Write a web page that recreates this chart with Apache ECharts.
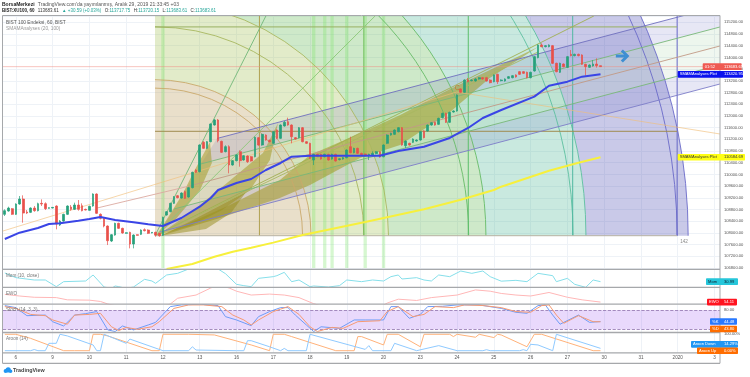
<!DOCTYPE html>
<html>
<head>
<meta charset="utf-8">
<title>BIST:XU100</title>
<style>
html,body{margin:0;padding:0;background:#fff}
#chart{width:750px;height:377px}
</style>
<script src="https://cdn.jsdelivr.net/npm/echarts@6/dist/echarts.min.js"></script>
</head>
<body>
<div id="chart"></div>
<script>
// candles, one hour each
const candleOpen = [
  108634,108748,108828,108634,108987,109158,108714,108702,108850,108759,
  109010,108999,108839,108850,108919,108269,108406,108634,108885,108805,
  108953,108930,108805,108771,108919,109329,108634,108486,108235,107722,
  107927,108326,108155,107984,108018,107619,107938,107950,108110,108098,
  107996,108018,107984,107916,108611,108725,109010,109272,109192,109409,
  109227,109546,110150,110093,111096,110891,111119,111689,111860,111130,
  110777,110948,110321,110469,110777,110492,110629,110606,110606,111255,
  111004,111346,111164,111061,111517,111232,111654,111802,111688,111255,
  111255,111597,111118,111061,110491,110685,110685,110605,110685,110525,
  110685,110503,110525,110571,110947,110742,110890,110719,110696,110639,
  110662,110708,110776,110605,111061,111346,111369,111460,111597,110981,
  111061,111095,111141,111175,111483,111483,111688,111779,111711,111939,
  112087,111779,112132,112167,112919,112805,113227,113204,113193,113261,
  113307,113307,113227,113170,113421,113204,113193,113284,113307,113398,
  113512,113512,113489,113307,113535,113991,114424,114367,114367,114401,
  113797,113489,113774,113660,114105,114059,114105,114082,113763,113660,
  113706,113774,113717.75
]
const candleClose = [
  108759,108850,108634,108987,109158,108679,108679,108850,108759,108999,
  108987,108828,108862,108873,108303,108406,108634,108919,108805,108953,
  108805,108759,108782,108907,109329,108668,108497,108235,107733,107938,
  108326,108155,107995,108007,107619,107927,107916,108098,108075,107984,
  108018,107927,107904,108531,108725,109010,109238,109204,109363,109181,
  109546,110070,110070,111005,110891,111119,111723,111860,111153,110754,
  110948,110321,110469,110663,110469,110640,110435,110458,111267,111004,
  111369,111175,111118,111460,111232,111688,111780,111688,111289,111209,
  111597,111118,111061,110548,110685,110617,110525,110685,110491,110685,
  110457,110537,110571,110833,110742,110890,110719,110662,110639,110685,
  110719,110776,110594,111004,111346,111403,111517,111597,111004,111141,
  111004,111209,111175,111460,111255,111688,111768,111688,111916,112087,
  111779,112121,112167,112714,112805,113227,113170,113227,113261,113307,
  113261,113193,113136,113398,113170,113227,113261,113341,113375,113330,
  113421,113455,113307,113489,114025,114424,114367,114401,114424,113797,
  113512,113797,113683,114025,114059,114105,114059,113763,113683,113740,
  113774,113717,113683.61
]
const candleLow = [
  108577,108725,108611,108611,108964,108349,108645,108679,108725,108736,
  108919,108782,108828,108839,108121,108235,108383,108611,108759,108782,
  108759,108736,108770,108759,108896,108645,108463,108190,107585,107688,
  107904,108133,107972,107972,107471,107471,107904,107927,108052,107961,
  107984,107870,107870,107893,108588,108702,108987,109181,109170,109158,
  109204,109523,110047,110070,110868,110868,111096,111666,111096,110731,
  110754,110036,110298,110446,110264,110469,110390,110435,110583,110980,
  110980,111152,111096,111038,111209,111209,111631,111665,111061,111187,
  111232,111095,111038,110525,110320,110594,110502,110582,110468,110502,
  110434,110480,110502,110548,110719,110719,110696,110639,110616,110491,
  110639,110685,110571,110582,111038,111323,111346,111437,110981,110901,
  110981,111072,111118,111152,111232,111460,111665,111665,111688,111916,
  111756,111756,112109,112144,112782,112782,113147,113181,113170,113238,
  113238,113170,113113,113147,113090,113181,113170,113261,113284,113307,
  113398,113432,113284,113284,113512,113968,114344,114344,114344,113774,
  113489,113466,113660,113637,114036,114036,114036,113740,113375,113637,
  113683,113649,113683.61
]
const candleHigh = [
  108805,108896,108850,109010,109261,109284,108782,108873,108919,109033,
  109147,109044,108873,108885,108942,108440,108657,108942,108953,109033,
  109124,109010,108828,108930,109352,109352,108668,108509,108258,107961,
  108349,108349,108178,108018,108041,107950,107950,108121,108155,108121,
  108030,108041,108007,108554,108748,109033,109261,109295,109386,109443,
  109569,110093,110173,111028,111142,111142,111746,111894,111894,111153,
  110994,110994,110492,110686,110823,110663,110652,110629,111290,111278,
  111392,111369,111187,111483,111540,111711,111825,111940,111711,111278,
  111620,111620,111141,111084,110708,110708,110708,110708,110708,110708,
  110708,110560,110594,110856,111289,110913,110913,110742,110719,110708,
  110788,110799,110799,111027,111369,111426,111540,111620,111620,111164,
  111084,111232,111198,111483,111506,111711,111791,111802,111939,112110,
  112110,112144,112190,112737,112942,113250,113295,113250,113290,113330,
  113330,113330,113250,113421,113444,113250,113284,113364,113398,113421,
  113535,113535,113512,113512,114048,114447,114481,114424,114447,114424,
  113820,113820,113797,114048,114253,114128,114128,114105,113786,113763,
  113911,113968,113720.15
]

// x axis, bar slots (the right part is empty space)
const barSlots = 195
const dayBars = [3,13,23,33,43,53,63,73,83,93,103,113,123,133,143,153,163,173,183,193]
const dayLabels = ['6','9','10','11','12','13','16','17','18','19','20','23','24','25','26','27','30','31','2020','3']
const priceTicks = 400

// moving averages
const smaFastBars = [0,4,9,12,15,20,23,26,30,35,39,43,48,53,56,58,63,67,71,75,78,83,94,102,107,114,121,126,130,135,144,148,153,157,162]
const smaFastValues = [107791,108007,108168,108304,108328,108417,108475,108544,108441,108362,108294,108236,108510,108896,109193,109467,109706,109843,110151,110390,110605,110640,110640,110640,110800,110947,111245,111587,111929,112202,112657,113033,113170,113341,113420.95]
const smaSlowBars = [44,51,57,62,67,73,81,98,114,124,133,135,148,156,162]
const smaSlowValues = [106766,106937,107186,107357,107494,107668,107928,108373,108807,109132,109467,109580,110127,110400,110584.69]

// indicators
const momBars = [0,3,8,11,14,16,22,24,27,29,30,31,33,35,38,40,41,44,47,50,54,58,60,63,65,67,69,73,74,76,78,80,83,84,88,91,93,97,100,103,105,107,108,112,114,116,118,121,124,127,130,132,135,139,142,145,149,150,153,155,158,160,162]
const momValues = [1243,590,264,264,-668,31,124,963,-715,-900,-575,-668,-900,-715,357,124,-202,963,1196,1802,2400,1802,1150,-342,-528,-668,497,730,870,1336,31,264,-668,-575,-715,-528,264,31,264,124,730,963,404,590,264,124,963,730,1522,1196,1522,730,100,217,31,1196,870,31,497,-342,-761,264,30.99]
const ewoBars = [0,4,8,14,17,23,26,28,34,41,45,47,52,56,58,61,63,67,72,76,80,84,88,94,101,104,107,112,116,123,128,132,135,139,143,148,153,157,162]
const ewoValues = [390,320,264,250,152,138,82,-30,-250,-250,-30,222,362,670,800,670,530,362,404,362,250,-16,-200,-250,-250,12,180,124,250,362,586,530,432,362,320,474,264,152,54.11]
const stochKBars = [0,3,6,11,13,16,19,22,25,28,30,32,35,39,41,45,48,53,58,60,63,67,69,72,75,77,79,82,84,86,91,95,98,103,105,107,110,113,115,119,123,129,135,139,142,145,147,149,151,156,159,162]
const stochKValues = [94.7,88.4,63,65,44,30.5,65,69.5,76,18,13,30.5,18,33.7,42,91.6,97,99,94.7,60,49.5,31.5,60,76,88.4,88.4,65,33.7,13,28,23,49.5,49.5,49.5,91.6,91.6,54.7,67,91.6,92.6,97,97,86,73.7,70.5,94.7,97,65,36,65,42,44.48]
const stochDBars = [0,3,7,11,13,17,19,23,26,29,31,33,36,40,42,46,50,54,59,62,65,67,69,73,77,80,83,85,89,92,96,102,104,107,111,114,117,122,125,130,135,139,143,146,148,150,152,156,160,162]
const stochDValues = [91.6,86,67,63,49.5,36,65,67,70.5,28,16,26,20,28,44,86,97,97,91.6,65,49.5,33.7,49.5,76,91.6,67,28,13,26,23,44,47,76,91.6,60,67,91.6,88.4,97,95,88.4,76,73.7,94.7,97,65,39,63,44,43.8]
const aroonUpBars = [0,3,7,16,19,23,24,26,28,40,42,43,50,57,67,72,73,76,78,90,95,96,97,103,104,107,113,114,121,122,123,128,129,133,134,135,142,144,146,160,162]
const aroonUpValues = [100,100,75.5,0,0,0,100,100,90,0,0,100,100,96,35,0,100,100,86,0,0,86,86,35,100,100,24,100,100,86,100,82,100,80,100,96,24,100,100,0,0]
const aroonDownBars = [0,7,8,9,11,12,14,15,17,24,25,26,27,33,34,43,50,51,52,63,65,66,67,72,75,76,77,82,83,98,99,100,105,106,112,118,123,130,131,132,140,141,142,143,145,149,150,162]
const aroonDownValues = [0,0,7,0,0,45,45,100,90,35,0,0,100,45,71,0,0,24,4,0,0,61,61,24,0,14,0,0,100,8,31,0,0,45,0,31,0,0,6,0,0,6,0,39,35,0,100,14.29]

// last values for the tags
const lastPrice = 113683.61
const lastSmaFast = 113420.95
const lastSmaSlow = 110584.69
const lastMom = 30.99
const lastEwo = 54.11
const lastK = 44.48
const lastD = 43.8
const lastAroonDown = 14.29
const lastAroonUp = 0

// gann box, in bars and price
const gannOriginBar = 40.84
const gannOriginPrice = 107904
const gannBoxBars = 142
const gannBands = [[0,42.43],[42.43,63.5],[63.5,90],[90,117.2],[117.2,145]]
const gannArcs = [40.14,42.43,56.8,63.5,85.3,90,113.7,117.2,142,145]
const gannVerticals = [69.24,97.64,126.04,154.44,182.84]
const gannHorizontals = [111473,115042]
const fanLines = [[71,115416],[100.7,115416],[160.2,115416],[145,114185]]
const stripeBars = [43,84,87,89,93,98,103]

// channel lines, left and right end as [bar, price]
const channelUpper = [[57.7,111228],[194.5,115758]]
const channelInnerHigh = [[53.3,110356],[194.5,115040]]
const channelMedian = [[49.7,109587],[194.5,114390]]
const channelInnerLow = [[46,108817],[194.5,113741]]
const channelLower = [[42.2,108031],[194.5,113091]]
const medianHandle = [[25.1,108851],[49.7,109587]]
const handleRise = [[-0.5,108065],[122.9,112817]]
const handleFall = [[122.9,112817],[194.5,111381]]

// olive wedges as [bar, price]
const wedgeOne = [[41.4,107928],[48.5,109364],[51.2,110048],[55.8,111108],[56.3,110390],[53.1,109467],[46.3,108441]]
const wedgeTwo = [[41.7,107928],[50.4,108680],[60.4,109706],[70.2,110732],[74.3,111758],[72.1,110493],[66.7,109467],[59.1,108783],[50.4,108236]]
const wedgeThree = [[42.2,107894],[50.1,108373],[65.6,109398],[61.5,108680],[54.7,108133]]
const wedgeBig = [[42.2,107894],[61.2,108954],[74.8,109809],[83,110663],[97.4,111450],[107.5,112031],[121.1,112920],[145,114356],[131.9,113296],[121.1,112134],[107.5,111005],[96.6,110561],[83,109638],[74.8,109193],[58.5,108510]]

const arrowBar = 167.8
const arrowPrice = 114048

const fontName = '"Liberation Sans", Arial, sans-serif'
const chart = echarts.init(document.getElementById('chart'), null, { renderer: 'canvas' })

const paneTop = [16, 270, 288, 304.5, 333]
const paneHeight = [252, 17, 16, 28, 19.7]
const paneMin = [106800, -715, -30, 9.9, -12.2]
const paneMax = [115415, 1662, 670, 98.3, 107.9]

const categories = []
for (let i = 0; i < barSlots; i++) {
  const idx = dayBars.indexOf(i)
  categories.push(idx >= 0 ? dayLabels[idx] : '')
}

function zip(bars, values) {
  return bars.map((b, i) => [b, values[i]])
}

function lineSeries(pane, points, color, width, z) {
  return {
    type: 'line',
    xAxisIndex: 5 + pane,
    yAxisIndex: pane,
    data: points,
    showSymbol: false,
    silent: true,
    clip: true,
    z: z,
    lineStyle: { color: color, width: width }
  }
}

function customSeries(data, z, renderItem) {
  return {
    type: 'custom',
    xAxisIndex: 5,
    yAxisIndex: 0,
    data: data,
    silent: true,
    clip: true,
    z: z,
    renderItem: renderItem
  }
}

function polygonSeries(shapes, colors, z) {
  return customSeries(shapes.map((s, i) => [i]), z, function(params, api) {
    const i = params.dataIndex
    return {
      type: 'polygon',
      shape: { points: shapes[i].map((p) => api.coord(p)) },
      style: { fill: colors[i], stroke: null }
    }
  })
}

const bandColors = ['rgba(182,148,78,.3)', 'rgba(158,188,75,.3)', 'rgba(92,182,75,.3)', 'rgba(75,182,148,.3)', 'rgba(75,75,178,.3)']
const arcColors = ['#c9a86a', '#c9a86a', '#a8b860', '#a8b860', '#66bb66', '#66bb66', '#5cbf9f', '#5cbf9f', '#6a6ac8', '#6a6ac8']
const verticalColors = ['#b0a050', '#72bf5e', '#5cbf6a', '#4fb8a0', '#6a6ac8']
const horizontalColors = ['#a08c50', '#98b060']
const fanColors = ['#72b878', '#8cc878', '#a0b050', '#a8b860']

function arcPixels(api, bars) {
  const c = api.coord([gannOriginBar, gannOriginPrice])
  const r = api.coord([gannOriginBar + bars, gannOriginPrice])[0] - c[0]
  return { cx: c[0], cy: c[1], r: r }
}

const series = [
  // gann fill
  customSeries(gannBands, 1, function(params, api) {
    const band = gannBands[params.dataIndex]
    const outer = arcPixels(api, band[1])
    const inner = arcPixels(api, band[0])
    return {
      type: 'sector',
      shape: { cx: outer.cx, cy: outer.cy, r: outer.r, r0: inner.r, startAngle: -Math.PI / 2, endAngle: 0, clockwise: true },
      style: { fill: bandColors[params.dataIndex], stroke: null }
    }
  }),
  // channel fill
  polygonSeries([
    [channelUpper[0], channelUpper[1], channelInnerHigh[1], channelInnerHigh[0]],
    [channelInnerHigh[0], channelInnerHigh[1], channelMedian[1], channelMedian[0]],
    [channelMedian[0], channelMedian[1], channelInnerLow[1], channelInnerLow[0]],
    [channelInnerLow[0], channelInnerLow[1], channelLower[1], channelLower[0]]
  ], ['rgba(70,70,180,.13)', 'rgba(90,170,90,.11)', 'rgba(90,170,90,.09)', 'rgba(70,70,180,.13)'], 2),
  // stripes
  customSeries(stripeBars.map((b) => [b]), 3, function(params, api) {
    const b = stripeBars[params.dataIndex]
    const left = api.coord([b - 0.45, paneMax[0]])
    const right = api.coord([b + 0.45, paneMin[0]])
    return {
      type: 'rect',
      shape: { x: left[0], y: left[1], width: right[0] - left[0], height: right[1] - left[1] },
      style: { fill: 'rgba(120,230,100,.3)' }
    }
  }),
  polygonSeries([wedgeBig, wedgeOne, wedgeTwo, wedgeThree], ['rgba(160,150,25,.52)', 'rgba(160,150,25,.5)', 'rgba(160,150,25,.5)', 'rgba(150,140,25,.5)'], 4),
  // gann arcs
  customSeries(gannArcs.map((r) => [r]), 5, function(params, api) {
    const a = arcPixels(api, gannArcs[params.dataIndex])
    return {
      type: 'arc',
      shape: { cx: a.cx, cy: a.cy, r: a.r, startAngle: -Math.PI / 2, endAngle: 0, clockwise: true },
      style: { fill: null, stroke: arcColors[params.dataIndex], lineWidth: 0.9 }
    }
  })
]

gannVerticals.forEach((b, i) => {
  series.push(lineSeries(0, [[b, gannOriginPrice], [b, paneMax[0]]], verticalColors[i], 1, 5))
})
gannHorizontals.forEach((p, i) => {
  series.push(lineSeries(0, [[gannOriginBar, p], [gannOriginBar + gannBoxBars, p]], horizontalColors[i], 1, 5))
})
fanLines.forEach((p, i) => {
  series.push(lineSeries(0, [[gannOriginBar, gannOriginPrice], p], fanColors[i], 0.9, 5))
})
series.push(lineSeries(0, [[gannOriginBar, gannOriginPrice], [gannOriginBar + gannBoxBars, gannOriginPrice]], '#b9b4a4', 1, 5))
series.push(lineSeries(0, channelUpper, '#6f6fbe', 0.9, 5))
series.push(lineSeries(0, channelInnerHigh, '#78b878', 0.9, 5))
series.push(lineSeries(0, channelMedian, '#c29a86', 0.9, 5))
series.push(lineSeries(0, medianHandle, '#dba9a0', 0.9, 5))
series.push(lineSeries(0, channelInnerLow, '#78b878', 0.9, 5))
series.push(lineSeries(0, channelLower, '#7d7dc8', 0.9, 5))
series.push(lineSeries(0, handleRise, 'rgba(240,190,120,.7)', 0.9, 5))
series.push(lineSeries(0, handleFall, 'rgba(240,190,120,.7)', 0.9, 5))
series.push(lineSeries(0, [[-0.5, lastPrice], [194.5, lastPrice]], 'rgba(240,140,130,.5)', 1, 5))

// candles
series.push({
  type: 'candlestick',
  xAxisIndex: 0,
  yAxisIndex: 0,
  barWidth: 2.2,
  silent: true,
  z: 6,
  data: candleOpen.map((o, i) => [o, candleClose[i], candleLow[i], candleHigh[i]]),
  itemStyle: { color: '#26a17b', color0: '#e8504a', borderColor: '#26a17b', borderColor0: '#e8504a', borderWidth: 0.7 }
})

series.push(lineSeries(0, zip(smaFastBars, smaFastValues), '#3a45e6', 2, 7))
series.push(lineSeries(0, zip(smaSlowBars, smaSlowValues), '#f7f03c', 2, 7))

// arrow, C and bar count
series.push(customSeries([[arrowBar, arrowPrice]], 8, function(params, api) {
  const c = api.coord([arrowBar, arrowPrice])
  const stroke = { fill: null, stroke: '#3f8fd2', lineWidth: 3, lineJoin: 'miter' }
  return {
    type: 'group',
    children: [
      { type: 'polyline', shape: { points: [[c[0] - 6, c[1]], [c[0] + 4, c[1]]] }, style: stroke },
      { type: 'polyline', shape: { points: [[c[0], c[1] - 5.5], [c[0] + 5.5, c[1]], [c[0], c[1] + 5.5]] }, style: stroke }
    ]
  }
}))
series.push(customSeries([[122.9, 112817]], 8, function(params, api) {
  const c = api.coord([122.9, 112817])
  return { type: 'text', x: c[0] - 2, y: c[1] - 7, style: { text: 'C', fill: '#c07a30', fontSize: 7, fontFamily: fontName } }
}))

// indicators
series.push(lineSeries(1, zip(momBars, momValues), '#86dfea', 1, 5))
series.push(lineSeries(2, zip(ewoBars, ewoValues), '#ffb7b7', 1, 5))
const stochK = lineSeries(3, zip(stochKBars, stochKValues), '#6f9cf7', 1, 6)
stochK.markArea = {
  silent: true,
  itemStyle: { color: 'rgba(155,80,240,.22)' },
  data: [[{ yAxis: 20 }, { yAxis: 80 }]]
}
stochK.markLine = {
  silent: true,
  symbol: 'none',
  label: { show: false },
  lineStyle: { color: '#8f72ad', type: 'dashed', width: 0.8 },
  data: [{ yAxis: 20 }, { yAxis: 80 }]
}
series.push(stochK)
series.push(lineSeries(3, zip(stochDBars, stochDValues), '#f79a73', 1, 6))
series.push(lineSeries(4, zip(aroonUpBars, aroonUpValues), '#ffb27a', 1, 5))
series.push(lineSeries(4, zip(aroonDownBars, aroonDownValues), '#8fcaff', 1, 5))

const gridLine = { lineStyle: { color: '#eef2f7', width: 1 } }

const option = {
  animation: false,
  backgroundColor: '#fff',
  grid: paneTop.map((top, i) => ({ left: 3, width: 717, top: top, height: paneHeight[i] })),
  xAxis: paneTop.map((top, i) => ({
    type: 'category',
    gridIndex: i,
    data: categories,
    axisLine: { show: false },
    axisTick: { show: false },
    axisLabel: i === 4 ? {
      show: true,
      fontSize: 4.6,
      color: '#555',
      fontFamily: fontName,
      margin: 3,
      interval: (idx) => dayBars.indexOf(idx) >= 0,
      formatter: (v) => v
    } : { show: false },
    splitLine: {
      show: true,
      alignWithLabel: true,
      interval: (idx) => dayBars.indexOf(idx) >= 0,
      lineStyle: gridLine.lineStyle
    }
  })).concat(paneTop.map((top, i) => ({
    type: 'value',
    gridIndex: i,
    min: -0.5,
    max: barSlots - 0.5,
    show: false
  }))),
  yAxis: paneTop.map((top, i) => {
    if (i > 0) {
      return { type: 'value', gridIndex: i, min: paneMin[i], max: paneMax[i], show: false }
    }
    return {
      type: 'value',
      gridIndex: 0,
      position: 'right',
      min: paneMin[0],
      max: paneMax[0],
      interval: priceTicks,
      axisLine: { show: false },
      axisTick: { show: false },
      axisLabel: {
        fontSize: 4.1,
        color: '#555',
        fontFamily: fontName,
        margin: 4,
        showMaxLabel: false,
        formatter: (v) => (v % priceTicks === 0 ? v.toFixed(2) : '')
      },
      splitLine: gridLine
    }
  }),
  series: series
}

chart.setOption(option)

function text(x, y, str, color, size, extra) {
  return {
    type: 'text',
    x: x,
    y: y,
    z: 50,
    silent: true,
    style: Object.assign({ text: str, fill: color, fontSize: size, fontFamily: fontName, verticalAlign: 'middle', align: 'left' }, extra || {})
  }
}

function hLine(x1, x2, y, width) {
  return { type: 'line', z: 40, silent: true, shape: { x1: x1, y1: y, x2: x2, y2: y }, style: { stroke: '#a6a8ab', lineWidth: width || 1 } }
}

function vLine(x, y1, y2) {
  return { type: 'line', z: 40, silent: true, shape: { x1: x, y1: y1, x2: x, y2: y2 }, style: { stroke: '#a6a8ab', lineWidth: 1 } }
}

// price tag on the right, placed from the axis scale
function tag(pane, value, color, left, right, label, valueText, textColor, shift) {
  const y = chart.convertToPixel({ yAxisIndex: pane }, value) + (shift || 0)
  const list = [{
    type: 'rect',
    z: 45,
    silent: true,
    shape: { x: left, y: y - 3.3, width: right - left, height: 6.6, r: 0.8 },
    style: { fill: color }
  }]
  list.push(text(left + 2, y, label, textColor, 4.1))
  list.push(text(724, y, valueText, textColor, 4.1))
  return list
}

const white = '#fff'
let graphics = [
  hLine(2.5, 720, 15.5), vLine(2.5, 15.5, 363.3), vLine(720, 15.5, 363.3),
  hLine(2.5, 720, 269.4, 1.3), hLine(2.5, 720, 287.3, 1.3), hLine(2.5, 720, 304.2, 1.3),
  hLine(2.5, 720, 332.5, 1.3), hLine(2.5, 720, 352.8, 1.3), hLine(2.5, 720, 363.3, 1.3),
  {
    type: 'text', x: 2, y: 5, z: 50, silent: true,
    style: {
      text: '{b|BorsaMerkezi} {n|TradingView.com\'da yayımlanmış, Aralık 29, 2019 21:33:45 +03}',
      verticalAlign: 'middle',
      rich: {
        b: { fontSize: 5, fontWeight: 'bold', fill: '#222', fontFamily: fontName },
        n: { fontSize: 5, fill: '#555', fontFamily: fontName }
      }
    }
  },
  {
    type: 'text', x: 2, y: 10.7, z: 50, silent: true,
    style: {
      text: '{b|BIST:XU100, 60} {n|113683.61} {g|▲ +30.59 (+0.03%)} {n|O:}{g|113717.75} {n|H:}{g|113720.15} {n|L:}{g|113683.61} {n|C:}{g|113683.61}',
      verticalAlign: 'middle',
      rich: {
        b: { fontSize: 4.5, fontWeight: 'bold', fill: '#222', fontFamily: fontName },
        n: { fontSize: 4.5, fill: '#333', fontFamily: fontName },
        g: { fontSize: 4.5, fill: '#26a69a', fontFamily: fontName }
      }
    }
  },
  text(6, 22.7, 'BIST 100 Endeksi, 60, BIST', '#555', 4.8),
  text(6, 29, 'SMAMAnalyses (20, 100)', '#999', 4.8),
  text(6, 276, 'Mom (10, close)', '#777', 4.6),
  text(6, 293.5, 'EWO', '#777', 4.6),
  text(6, 310, 'Stoch (14, 3, 3)', '#777', 4.6),
  text(6, 339, 'Aroon (14)', '#777', 4.6),
  text(684, 242, '142', '#888', 4.6, { align: 'center' }),
  text(724, chart.convertToPixel({ yAxisIndex: 3 }, 80), '80.00', '#555', 4.1),
  text(724, chart.convertToPixel({ yAxisIndex: 4 }, 100), '100.00%', '#555', 4.1),
  // logo
  { type: 'circle', z: 50, silent: true, shape: { cx: 5.6, cy: 371, r: 2 }, style: { fill: '#2196f3' } },
  { type: 'circle', z: 50, silent: true, shape: { cx: 8.2, cy: 369.9, r: 2.6 }, style: { fill: '#2196f3' } },
  { type: 'circle', z: 50, silent: true, shape: { cx: 10.6, cy: 371.2, r: 1.8 }, style: { fill: '#2196f3' } },
  text(13, 370.6, 'TradingView', '#444', 5.4, { fontWeight: 'bold' })
]
graphics = graphics.concat(
  tag(0, lastPrice, '#ef5a52', 702.7, 741.7, '01:52', lastPrice.toFixed(2), white),
  tag(0, lastSmaFast, '#0a12ee', 677.7, 743, 'SMAMAnalyses:Plot', lastSmaFast.toFixed(2), white),
  tag(0, lastSmaSlow, '#ffff14', 677.7, 745, 'SMAMAnalyses:Plot', lastSmaSlow.toFixed(2), '#333'),
  tag(1, lastMom, '#26c6da', 706, 738, 'Mom', lastMom.toFixed(2), '#123'),
  tag(2, lastEwo, '#ff1420', 707, 737, 'EWO', lastEwo.toFixed(2), white),
  tag(3, lastK, '#2979ff', 710, 737, '%K', lastK.toFixed(2), white),
  tag(3, lastD, '#ff6d00', 710, 737, '%D', lastD.toFixed(2), white, 7.2),
  tag(4, lastAroonDown, '#2196f3', 691, 738, 'Aroon Down', lastAroonDown.toFixed(2) + '%', white, -4),
  tag(4, lastAroonUp, '#ff6d00', 697, 738, 'Aroon Up', lastAroonUp.toFixed(2) + '%', white)
)
chart.setOption({ graphic: graphics })
</script>
</body>
</html>
